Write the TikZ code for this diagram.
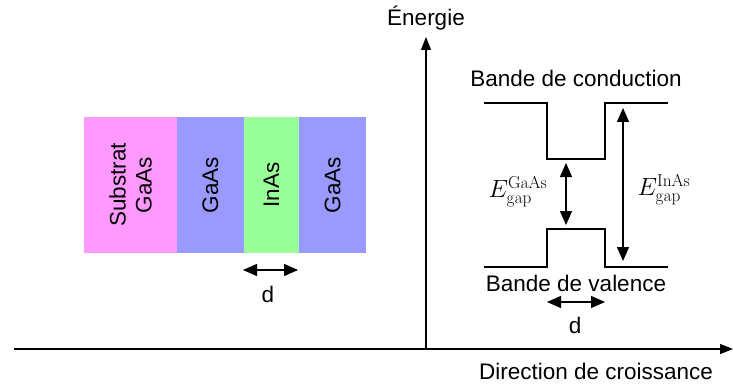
\documentclass[tikz,border=0pt]{standalone}
\usepackage[no-math]{fontspec}
\setmainfont{Liberation Sans}
\usetikzlibrary{arrows.meta}
\definecolor{pinkl}{HTML}{FF99FF}
\definecolor{bluel}{HTML}{9999FF}
\definecolor{greenl}{HTML}{99FF99}
\begin{document}
\begin{tikzpicture}[x=1pt,y=-1pt,
  lbl/.style={font=\fontsize{22.5}{26}\selectfont, inner sep=0pt},
  vlbl/.style={lbl, rotate=90, align=center},
  mlbl/.style={font=\fontsize{23}{26}\selectfont, inner sep=0pt},
  layer/.style={draw=none, inner sep=0pt, minimum height=136pt},
  band/.style={line width=1.3pt},
  dbl/.style={line width=1.3pt, {Triangle[length=14pt,width=12pt]}-{Triangle[length=14pt,width=12pt]}},
  axis/.style={line width=1.1pt, -{Triangle[length=13pt,width=10pt]}}]
\useasboundingbox (0,0) rectangle (733,385);
% layers
\node[layer, fill=pinkl, minimum width=93pt] (sub) at (130.5,185) {};
\node[layer, fill=bluel, minimum width=67pt] (g1) at (210.5,185) {};
\node[layer, fill=greenl, minimum width=55pt] (ina) at (271.5,185) {};
\node[layer, fill=bluel, minimum width=67pt] (g2) at (332.5,185) {};
\node[vlbl] (tsub) at (sub.center) {Substrat\\GaAs};
\node[vlbl] (tg1) at (g1.center) {GaAs};
\node[vlbl] (tin) at (ina.center) {InAs};
\node[vlbl] (tg2) at (g2.center) {GaAs};
\coordinate (dl) at (243,270);
\coordinate (dr) at (298,270);
\draw[dbl] (dl) -- (dr);
\node[lbl] (d1) at (268,294) {d};
% axes
\coordinate (o) at (426,349);
\coordinate (ytop) at (426,37);
\coordinate (xl) at (14,349);
\coordinate (xr) at (733,349);
\draw[axis] (o) -- (ytop);
\draw[line width=1.1pt] (xl) -- (o);
\draw[axis] (o) -- (xr);
\node[lbl] (en) at (426,18) {Énergie};
\node[lbl] (dir) at (596,371) {Direction de croissance};
% bands
\coordinate (c1) at (484,103); \coordinate (c2) at (547,103);
\coordinate (c3) at (547,159); \coordinate (c4) at (605,159);
\coordinate (c5) at (605,103); \coordinate (c6) at (668,103);
\coordinate (v1) at (484,267); \coordinate (v2) at (547,267);
\coordinate (v3) at (547,229); \coordinate (v4) at (605,229);
\coordinate (v5) at (605,267); \coordinate (v6) at (668,267);
\draw[band] (c1) -- (c2) -- (c3) -- (c4) -- (c5) -- (c6);
\draw[band] (v1) -- (v2) -- (v3) -- (v4) -- (v5) -- (v6);
\node[lbl] (bc) at (576,78) {Bande de conduction};
\node[lbl] (bv) at (576,283) {Bande de valence};
\coordinate (ga1) at (566,163); \coordinate (ga2) at (566,225);
\coordinate (in1) at (623,108); \coordinate (in2) at (623,261);
\draw[dbl] (ga1) -- (ga2);
\draw[dbl] (in1) -- (in2);
\node[mlbl] (eg) at (518,192) {$E_{\mathrm{gap}}^{\mathrm{GaAs}}$};
\node[mlbl] (ei) at (664,190) {$E_{\mathrm{gap}}^{\mathrm{InAs}}$};
\coordinate (d2l) at (547,302); \coordinate (d2r) at (605,302);
\draw[dbl] (d2l) -- (d2r);
\node[lbl] (d2) at (575,325) {d};
\end{tikzpicture}
\end{document}
